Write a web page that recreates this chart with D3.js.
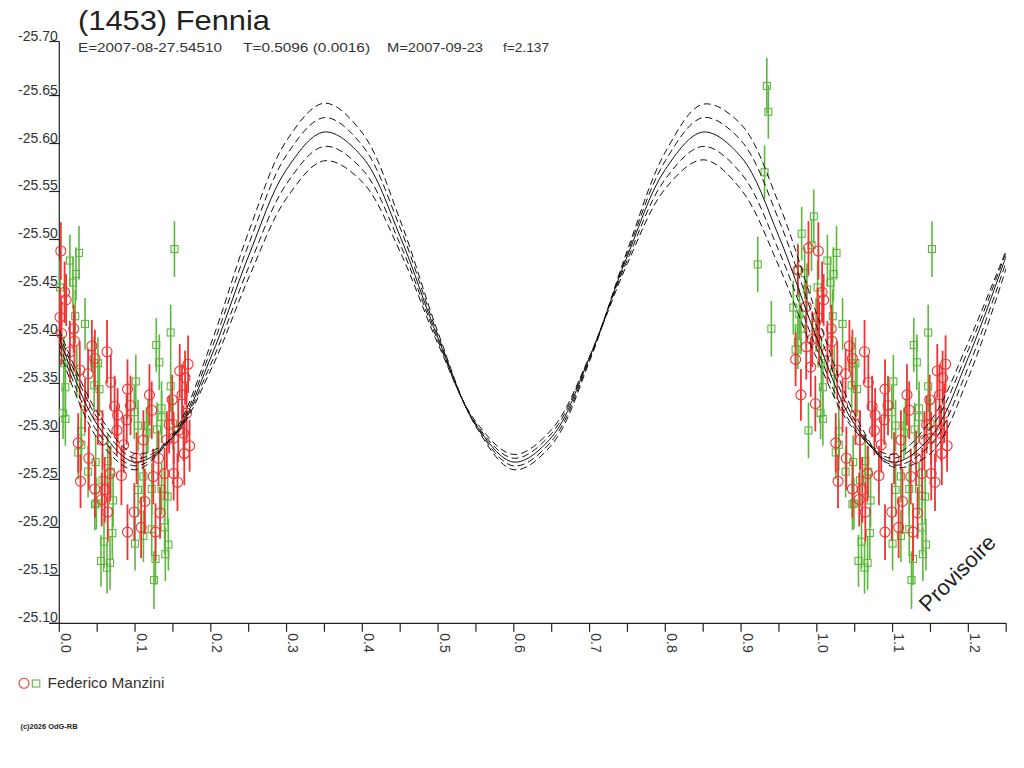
<!DOCTYPE html>
<html><head><meta charset="utf-8">
<script src="https://cdn.jsdelivr.net/npm/d3@7"></script>
<style>body{margin:0;background:#fff}svg{display:block}text{font-family:"Liberation Sans",Arial,sans-serif}</style>
</head><body><svg id="c" width="1024" height="768"></svg>
<script>
// ---------- text ----------
const title = "(1453) Fennia";
const subtitleParts = ["E=2007-08-27.54510", "T=0.5096 (0.0016)", "M=2007-09-23", "f=2.137"];
const observer = "Federico Manzini";
const watermark = "Provisoire";
const copyright = "(c)2026 OdG-RB";

// ---------- axes ----------
const xTicks = [0,0.05,0.1,0.15,0.2,0.25,0.3,0.35,0.4,0.45,0.5,0.55,0.6,0.65,0.7,0.75,0.8,0.85,0.9,0.95,1.0,1.05,1.1,1.15,1.2,1.25];
const xLabelTicks = [0,0.1,0.2,0.3,0.4,0.5,0.6,0.7,0.8,0.9,1.0,1.1,1.2];
const yTicks = [-25.65,-25.60,-25.55,-25.50,-25.45,-25.40,-25.35,-25.30,-25.25,-25.20,-25.15,-25.10];
const yTopLabel = "-25.70";

// ---------- fitted curve ----------
const fitPhase = [0,0.05,0.1,0.15,0.2,0.25,0.3,0.35,0.4,0.45,0.5,0.55,0.6,0.65,0.7,0.75,0.8,0.85,0.9,0.95,1.0,1.05,1.1,1.15,1.2,1.25];
const fitMid = [-25.397,-25.307,-25.268,-25.294,-25.377,-25.483,-25.573,-25.612,-25.586,-25.503,-25.397,-25.307,-25.268,-25.294,-25.377,-25.483,-25.573,-25.612,-25.586,-25.503,-25.397,-25.307,-25.268,-25.294,-25.377,-25.483];
const fitUp2 = [-25.385,-25.293,-25.260,-25.297,-25.391,-25.508,-25.603,-25.642,-25.611,-25.520,-25.403,-25.305,-25.260,-25.286,-25.373,-25.489,-25.591,-25.641,-25.620,-25.537,-25.422,-25.318,-25.263,-25.277,-25.356,-25.470];
const fitUp1 = [-25.391,-25.300,-25.264,-25.295,-25.384,-25.495,-25.588,-25.627,-25.598,-25.512,-25.400,-25.306,-25.264,-25.290,-25.375,-25.486,-25.582,-25.627,-25.603,-25.520,-25.409,-25.312,-25.265,-25.286,-25.367,-25.477];
const fitLo1 = [-25.402,-25.314,-25.272,-25.294,-25.370,-25.471,-25.558,-25.597,-25.573,-25.495,-25.394,-25.308,-25.272,-25.298,-25.378,-25.479,-25.563,-25.597,-25.569,-25.488,-25.386,-25.303,-25.272,-25.303,-25.385,-25.487];
const fitLo2 = [-25.406,-25.320,-25.277,-25.294,-25.364,-25.460,-25.543,-25.582,-25.560,-25.487,-25.391,-25.310,-25.276,-25.302,-25.378,-25.475,-25.553,-25.583,-25.552,-25.472,-25.376,-25.301,-25.276,-25.311,-25.393,-25.489];

// ---------- observations: red circles ----------
const redPhase = [0.989,0.002,0.975,0.007,0.986,0.001,0.019,0.003,0.994,0.020,0.986,0.043,0.972,0.992,0.038,0.047,0.979,0.063,0.068,0.090,0.159,0.170,0.162,0.149,0.168,0.164,0.172,0.165,0.156,0.151,0.111,0.124,0.113,0.133,0.127,0.073,0.077,0.051,0.076,0.145,0.157,0.151,0.082,0.067,0.060,0.056,0.099,0.108,0.139,0.998,0.025,0.028,0.047,0.039,0.089,0.094,0.085,0.102,0.119,0.122,0.166,0.064,0.090,0.009,0.027,0.014,0.034,0.057,0.131,0.142];
const redMag = [-25.491,-25.488,-25.468,-25.445,-25.430,-25.419,-25.407,-25.402,-25.396,-25.394,-25.388,-25.389,-25.375,-25.367,-25.360,-25.376,-25.338,-25.383,-25.351,-25.344,-25.363,-25.370,-25.338,-25.333,-25.319,-25.298,-25.285,-25.277,-25.247,-25.256,-25.291,-25.253,-25.227,-25.215,-25.195,-25.326,-25.317,-25.317,-25.301,-25.307,-25.301,-25.293,-25.254,-25.256,-25.239,-25.229,-25.216,-25.200,-25.256,-25.329,-25.288,-25.248,-25.240,-25.272,-25.312,-25.327,-25.286,-25.272,-25.338,-25.322,-25.356,-25.216,-25.195,-25.437,-25.364,-25.383,-25.327,-25.291,-25.272,-25.291];
const redErr = [0.028,0.030,0.026,0.032,0.027,0.031,0.025,0.033,0.029,0.030,0.034,0.027,0.028,0.031,0.026,0.030,0.027,0.033,0.029,0.031,0.028,0.030,0.032,0.026,0.031,0.029,0.027,0.033,0.030,0.028,0.031,0.029,0.034,0.027,0.030,0.032,0.028,0.031,0.026,0.030,0.033,0.027,0.031,0.029,0.034,0.028,0.030,0.032,0.027,0.029,0.031,0.028,0.030,0.033,0.026,0.031,0.029,0.027,0.032,0.030,0.028,0.031,0.029,0.027,0.030,0.032,0.028,0.031,0.029,0.030];

// ---------- observations: green squares ----------
const greenPhase = [0.934,0.936,0.931,0.922,0.940,0.996,0.980,0.993,0.026,0.014,0.022,0.984,0.975,0.987,0.001,0.018,0.969,0.977,0.021,0.034,0.999,0.979,0.975,0.972,0.006,0.023,0.046,0.008,0.046,0.152,0.147,0.128,0.132,0.101,0.051,0.053,0.147,0.135,0.135,0.117,0.115,0.139,0.122,0.122,0.111,0.139,0.144,0.140,0.127,0.125,0.099,0.104,0.129,0.150,0.064,0.068,0.057,0.049,0.071,0.111,0.104,0.135,0.143,0.070,0.059,0.055,0.067,0.063,0.100,0.989,0.008,0.005,0.029,0.029,0.025,0.038,0.048,0.047];
const greenMag = [-25.660,-25.633,-25.570,-25.474,-25.407,-25.524,-25.506,-25.494,-25.486,-25.478,-25.464,-25.465,-25.468,-25.448,-25.450,-25.455,-25.429,-25.422,-25.420,-25.412,-25.411,-25.407,-25.393,-25.385,-25.371,-25.362,-25.348,-25.346,-25.371,-25.490,-25.403,-25.390,-25.372,-25.352,-25.371,-25.344,-25.347,-25.324,-25.315,-25.306,-25.298,-25.233,-25.240,-25.198,-25.191,-25.200,-25.182,-25.172,-25.167,-25.145,-25.320,-25.306,-25.302,-25.308,-25.269,-25.258,-25.249,-25.225,-25.228,-25.253,-25.239,-25.240,-25.232,-25.194,-25.185,-25.165,-25.163,-25.158,-25.183,-25.301,-25.313,-25.319,-25.300,-25.286,-25.278,-25.258,-25.268,-25.224];
const greenErr = [0.029,0.028,0.028,0.029,0.029,0.028,0.028,0.027,0.028,0.027,0.028,0.027,0.028,0.027,0.028,0.027,0.028,0.027,0.028,0.027,0.028,0.027,0.028,0.027,0.028,0.027,0.028,0.027,0.028,0.029,0.029,0.028,0.029,0.028,0.027,0.028,0.027,0.028,0.027,0.028,0.027,0.028,0.027,0.028,0.027,0.028,0.027,0.028,0.027,0.030,0.028,0.027,0.028,0.027,0.028,0.027,0.028,0.027,0.028,0.027,0.028,0.027,0.028,0.027,0.028,0.027,0.028,0.027,0.028,0.029,0.028,0.027,0.028,0.027,0.028,0.027,0.028,0.027];

// ---------- drawing ----------
const RED = "#f03232", GREEN = "#5cb83c", TXT = "#333";
const svg = d3.select("#c");
svg.append("rect").attr("width",1024).attr("height",768).attr("fill","#fff");

const x = d3.scaleLinear().domain([0, 1.25]).range([59.3, 1006.2]);
const y = d3.scaleLinear().domain([-25.10, -25.7063]).range([623.3, 41.5]);
const [x0, x1] = x.range();
const [yb, yt] = y.range();

// title
svg.append("text").attr("x",78).attr("y",30).attr("font-size",28).attr("fill","#222")
  .attr("textLength",192).attr("lengthAdjust","spacingAndGlyphs").text(title);
const subX = [78, 243, 387, 503], subW = [144, 127, 96, 46];
subtitleParts.forEach((s,i)=>{
  svg.append("text").attr("x",subX[i]).attr("y",52).attr("font-size",13).attr("fill",TXT)
    .attr("textLength",subW[i]).attr("lengthAdjust","spacingAndGlyphs").text(s);
});

// axes
const ax = svg.append("g").attr("stroke","#222").attr("stroke-width",1.2).attr("fill","none");
ax.append("line").attr("x1",x0).attr("x2",x0).attr("y1",yt).attr("y2",yb);
ax.append("line").attr("x1",x0-10).attr("x2",x1).attr("y1",yb).attr("y2",yb);
xTicks.forEach(t=>{
  ax.append("line").attr("x1",x(t)).attr("x2",x(t)).attr("y1",yb).attr("y2",yb+8.5);
});
yTicks.forEach(t=>{
  ax.append("line").attr("x1",x0-10).attr("x2",x0).attr("y1",y(t)).attr("y2",y(t));
});
ax.append("line").attr("x1",x0-10).attr("x2",x0).attr("y1",yt).attr("y2",yt);

const yl = svg.append("g").attr("font-size",14).attr("fill",TXT).attr("text-anchor","end");
yTicks.forEach(t=>{
  yl.append("text").attr("x",x0-1.5).attr("y",y(t)-1).text(t.toFixed(2));
});
yl.append("text").attr("x",x0-1.5).attr("y",yt-1).text(yTopLabel);

const xl = svg.append("g").attr("font-size",14).attr("fill",TXT);
xLabelTicks.forEach(t=>{
  xl.append("text").attr("transform",`translate(${x(t)+1.5},${yb+10}) rotate(90)`).text(t.toFixed(1));
});

// clip for curves
svg.append("clipPath").attr("id","plot").append("rect")
  .attr("x",x0).attr("y",0).attr("width",x1-x0).attr("height",yb);

// observations
function copies(p){ return [p, p+1].filter(q => q >= 0 && q <= 1.25); }
const obs = svg.append("g");
const gG = obs.append("g"), gR = obs.append("g");
greenPhase.forEach((p,i)=>{
  copies(p).forEach(q=>{
    const cx = x(q), cy = y(greenMag[i]);
    gG.append("line").attr("x1",cx).attr("x2",cx)
      .attr("y1",y(greenMag[i]-greenErr[i])).attr("y2",y(greenMag[i]+greenErr[i]))
      .attr("stroke",GREEN).attr("stroke-width",1.6);
    gG.append("rect").attr("x",cx-3.5).attr("y",cy-3.5).attr("width",7).attr("height",7)
      .attr("fill","none").attr("stroke",GREEN).attr("stroke-width",1.1);
  });
});
redPhase.forEach((p,i)=>{
  copies(p).forEach(q=>{
    const cx = x(q), cy = y(redMag[i]);
    gR.append("line").attr("x1",cx).attr("x2",cx)
      .attr("y1",y(redMag[i]-redErr[i])).attr("y2",y(redMag[i]+redErr[i]))
      .attr("stroke",RED).attr("stroke-width",1.8);
    gR.append("circle").attr("cx",cx).attr("cy",cy).attr("r",5)
      .attr("fill","none").attr("stroke",RED).attr("stroke-width",1.1);
  });
});

// curves
const line = d3.line().x(d=>x(d[0])).y(d=>y(d[1])).curve(d3.curveCatmullRom.alpha(0.5));
const cg = svg.append("g").attr("clip-path","url(#plot)").attr("fill","none").attr("stroke","#111").attr("stroke-width",1);
[fitUp2, fitUp1, fitLo1, fitLo2].forEach(arr=>{
  cg.append("path").attr("d", line(fitPhase.map((p,i)=>[p, arr[i]]))).attr("stroke-dasharray","7,4");
});
cg.append("path").attr("d", line(fitPhase.map((p,i)=>[p, fitMid[i]])));

// watermark
svg.append("text").attr("transform","translate(928,613) rotate(-45)").attr("font-size",22).attr("fill","#222")
  .attr("textLength",98).attr("lengthAdjust","spacingAndGlyphs").text(watermark);

// legend
const lg = svg.append("g");
lg.append("circle").attr("cx",24).attr("cy",683.3).attr("r",5).attr("fill","none").attr("stroke",RED).attr("stroke-width",1.1);
lg.append("rect").attr("x",32.3).attr("y",680).attr("width",7.5).attr("height",7).attr("fill","none").attr("stroke",GREEN).attr("stroke-width",1.1);
lg.append("text").attr("x",47.5).attr("y",688.3).attr("font-size",15).attr("fill",TXT)
  .attr("textLength",117).attr("lengthAdjust","spacingAndGlyphs").text(observer);

svg.append("text").attr("x",20.5).attr("y",728.5).attr("font-size",7.5).attr("font-weight","bold").attr("fill","#222")
  .attr("textLength",57).attr("lengthAdjust","spacingAndGlyphs").text(copyright);
</script></body></html>
